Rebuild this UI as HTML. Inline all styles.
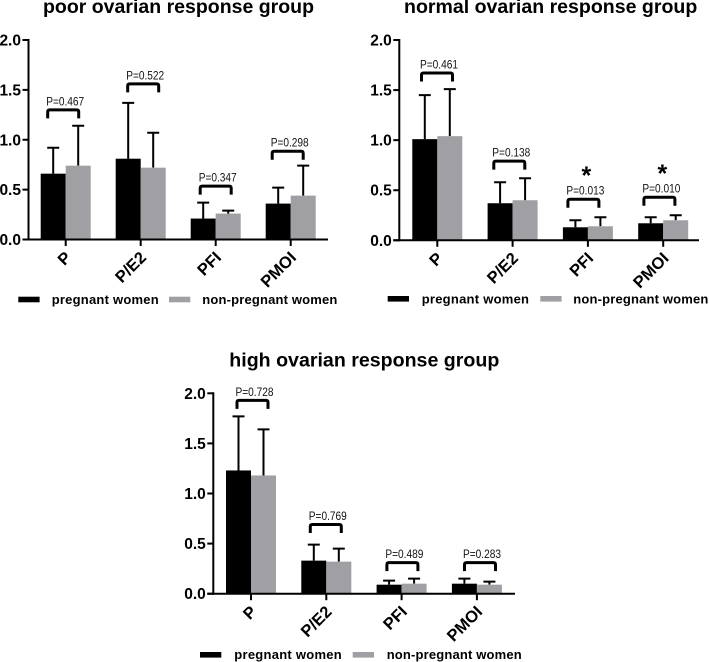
<!DOCTYPE html>
<html>
<head>
<meta charset="utf-8">
<style>
html,body{margin:0;padding:0;background:#fff;width:709px;height:662px;overflow:hidden}
svg{display:block;font-family:"Liberation Sans",sans-serif;filter:blur(0.35px)}
</style>
</head>
<body>
<svg id="figure" width="709" height="662" viewBox="0 0 709 662" xmlns="http://www.w3.org/2000/svg"></svg>
<script>
const categories = ['P', 'P/E2', 'PFI', 'PMOI'];
const yTickValues = [0, 0.5, 1, 1.5, 2];
const seriesNames = ['pregnant women', 'non-pregnant women'];

const poorPregnant = [0.66, 0.81, 0.21, 0.36];
const poorNonPregnant = [0.74, 0.72, 0.26, 0.44];
const poorPregnantUpper = [0.92, 1.37, 0.37, 0.52];
const poorNonPregnantUpper = [1.14, 1.07, 0.29, 0.74];
const poorBracketLevel = [1.30, 1.56, 0.535, 0.885];
const poorPValues = ['P=0.467', 'P=0.522', 'P=0.347', 'P=0.298'];
const poorStars = ['', '', '', ''];

const normalPregnant = [1.01, 0.37, 0.13, 0.17];
const normalNonPregnant = [1.04, 0.40, 0.14, 0.20];
const normalPregnantUpper = [1.45, 0.58, 0.20, 0.23];
const normalNonPregnantUpper = [1.51, 0.62, 0.23, 0.25];
const normalBracketLevel = [1.67, 0.79, 0.41, 0.43];
const normalPValues = ['P=0.461', 'P=0.138', 'P=0.013', 'P=0.010'];
const normalStars = ['', '', '*', '*'];

const highPregnant = [1.23, 0.33, 0.09, 0.10];
const highNonPregnant = [1.18, 0.32, 0.10, 0.09];
const highPregnantUpper = [1.77, 0.49, 0.13, 0.15];
const highNonPregnantUpper = [1.64, 0.45, 0.15, 0.12];
const highBracketLevel = [1.93, 0.69, 0.31, 0.31];
const highPValues = ['P=0.728', 'P=0.769', 'P=0.489', 'P=0.283'];
const highStars = ['', '', '', ''];

const panels = [
  {
    key: 'poor', title: 'poor ovarian response group',
    pregnant: poorPregnant, nonPregnant: poorNonPregnant,
    pregnantUpper: poorPregnantUpper, nonPregnantUpper: poorNonPregnantUpper,
    bracketLevel: poorBracketLevel, pValues: poorPValues, stars: poorStars,
    layout: { axisX: 28.5, top: 40, bottom: 239.5, right: 328, first: 65.7, step: 75,
      titleX: 43, titleW: 271, titleY: 13, shifts: [-2.5, 2.5, 0, -3],
      legend: { y: 296.7, base: 304, r1: 18.3, t1: 51.7, t1w: 107, r2: 169, t2: 202.3, t2w: 135 } }
  },
  {
    key: 'normal', title: 'normal ovarian response group',
    pregnant: normalPregnant, nonPregnant: normalNonPregnant,
    pregnantUpper: normalPregnantUpper, nonPregnantUpper: normalNonPregnantUpper,
    bracketLevel: normalBracketLevel, pValues: normalPValues, stars: normalStars,
    layout: { axisX: 399.3, top: 40, bottom: 240.3, right: 699, first: 437.3, step: 75.3,
      titleX: 404, titleW: 293.3, titleY: 13, shifts: [-0.3, -3.3, -4.5, -3.8],
      legend: { y: 296, base: 303.5, r1: 387.7, t1: 421.7, t1w: 107.3, r2: 540.3, t2: 573.3, t2w: 135 } }
  },
  {
    key: 'high', title: 'high ovarian response group',
    pregnant: highPregnant, nonPregnant: highNonPregnant,
    pregnantUpper: highPregnantUpper, nonPregnantUpper: highNonPregnantUpper,
    bracketLevel: highBracketLevel, pValues: highPValues, stars: highStars,
    layout: { axisX: 213.3, top: 393.3, bottom: 593.7, right: 515, first: 251, step: 75.3,
      titleX: 229.3, titleW: 270, titleY: 366.5, shifts: [1.5, -0.5, 0.8, 3.1],
      legend: { y: 652, base: 659, r1: 200, t1: 234.3, t1w: 107.4, r2: 352.7, t2: 386.7, t2w: 135 } }
  }
];

const NS = 'http://www.w3.org/2000/svg';
const GREY = '#a0a0a4';
const BAR_W = 25;
const root = document.getElementById('figure');

function make(parent, tag, attrs) {
  const el = document.createElementNS(NS, tag);
  for (const k in attrs) el.setAttribute(k, attrs[k]);
  parent.appendChild(el);
  return el;
}

panels.forEach(function (panel) {
  const L = panel.layout;
  const yScale = function (v) { return L.bottom - (v / 2) * (L.bottom - L.top); };
  const xScale = function (i) { return L.first + i * L.step; };

  const g = make(root, 'g', {});
  
  

  const title = make(g, 'text', { x: L.titleX, y: L.titleY, 'font-size': 19.6, 'font-weight': 'bold', fill: '#000', textLength: L.titleW, lengthAdjust: 'spacingAndGlyphs' });
  title.textContent = panel.title;
  
  

  categories.forEach(function (cat, i) {
    const c = xScale(i);
    const y0 = yScale(0);

    const ep = make(g, 'path', { d: 'M' + (c - BAR_W / 2) + ' ' + yScale(panel.pregnant[i]) + 'V' + yScale(panel.pregnantUpper[i]) + 'm-6 0h12', stroke: '#000', 'stroke-width': 2, fill: 'none' });
    
    

    const en = make(g, 'path', { d: 'M' + (c + BAR_W / 2) + ' ' + yScale(panel.nonPregnant[i]) + 'V' + yScale(panel.nonPregnantUpper[i]) + 'm-6 0h12', stroke: '#000', 'stroke-width': 2, fill: 'none' });
    
    

    const bp = make(g, 'rect', { x: c - BAR_W, y: yScale(panel.pregnant[i]), width: BAR_W, height: y0 - yScale(panel.pregnant[i]), fill: '#000' });
    
    

    const bn = make(g, 'rect', { x: c, y: yScale(panel.nonPregnant[i]), width: BAR_W, height: y0 - yScale(panel.nonPregnant[i]), fill: GREY });
    
    

    const by = yScale(panel.bracketLevel[i]);
    const bc = c + L.shifts[i];
    const br = make(g, 'path', { d: 'M' + (bc - 15.5) + ' ' + (by + 8.5) + 'V' + (by + 2) + 'Q' + (bc - 15.5) + ' ' + by + ' ' + (bc - 13.5) + ' ' + by + 'H' + (bc + 13.5) + 'Q' + (bc + 15.5) + ' ' + by + ' ' + (bc + 15.5) + ' ' + (by + 2) + 'V' + (by + 8.5), stroke: '#000', 'stroke-width': 3, fill: 'none' });
    
    

    const pv = make(g, 'text', { x: bc + 2, y: by - 4.5, 'font-size': 11.5, fill: '#111', 'text-anchor': 'middle', textLength: 38, lengthAdjust: 'spacingAndGlyphs' });
    pv.textContent = panel.pValues[i];
    
    

    if (panel.stars[i]) {
      const st = make(g, 'text', { x: bc + 3, y: by - 15, 'font-size': 25, 'font-weight': 'bold', fill: '#000', 'text-anchor': 'middle' });
      st.textContent = panel.stars[i];
      
      
    }

    const tk = make(g, 'line', { x1: c, x2: c, y1: y0, y2: y0 + 6.5, stroke: '#000', 'stroke-width': 2 });
    
    

    const lx = c + 6.5;
    const ly = y0 + 19;
    const cl = make(g, 'text', { x: lx, y: ly, 'font-size': 16.5, 'font-weight': 'bold', fill: '#000', 'text-anchor': 'end', transform: 'rotate(-45 ' + lx + ' ' + ly + ')' });
    cl.textContent = cat;
    
    
  });

  const yAxis = make(g, 'line', { x1: L.axisX, x2: L.axisX, y1: L.top - 1, y2: L.bottom + 1, stroke: '#000', 'stroke-width': 2 });
  
  

  const xAxis = make(g, 'line', { x1: L.axisX - 6, x2: L.right, y1: L.bottom, y2: L.bottom, stroke: '#000', 'stroke-width': 2 });
  
  

  yTickValues.forEach(function (v) {
    const ty = yScale(v);
    const tick = make(g, 'line', { x1: L.axisX - 6, x2: L.axisX, y1: ty, y2: ty, stroke: '#000', 'stroke-width': 2 });
    
    

    const label = make(g, 'text', { x: L.axisX - 7.5, y: ty + 5.5, 'font-size': 15.5, 'font-weight': 'bold', fill: '#000', 'text-anchor': 'end' });
    label.textContent = v.toFixed(1);
    
    
  });

  const leg = L.legend;
  const sw1 = make(g, 'rect', { x: leg.r1, y: leg.y, width: 21.3, height: 5.6, fill: '#000' });
  
  

  const lt1 = make(g, 'text', { x: leg.t1, y: leg.base, 'font-size': 13, 'font-weight': 'bold', fill: '#000', textLength: leg.t1w, lengthAdjust: 'spacing' });
  lt1.textContent = seriesNames[0];
  
  

  const sw2 = make(g, 'rect', { x: leg.r2, y: leg.y, width: 21.3, height: 5.6, fill: GREY });
  
  

  const lt2 = make(g, 'text', { x: leg.t2, y: leg.base, 'font-size': 13, 'font-weight': 'bold', fill: '#000', textLength: leg.t2w, lengthAdjust: 'spacing' });
  lt2.textContent = seriesNames[1];
  
  
});
</script>
</body>
</html>
